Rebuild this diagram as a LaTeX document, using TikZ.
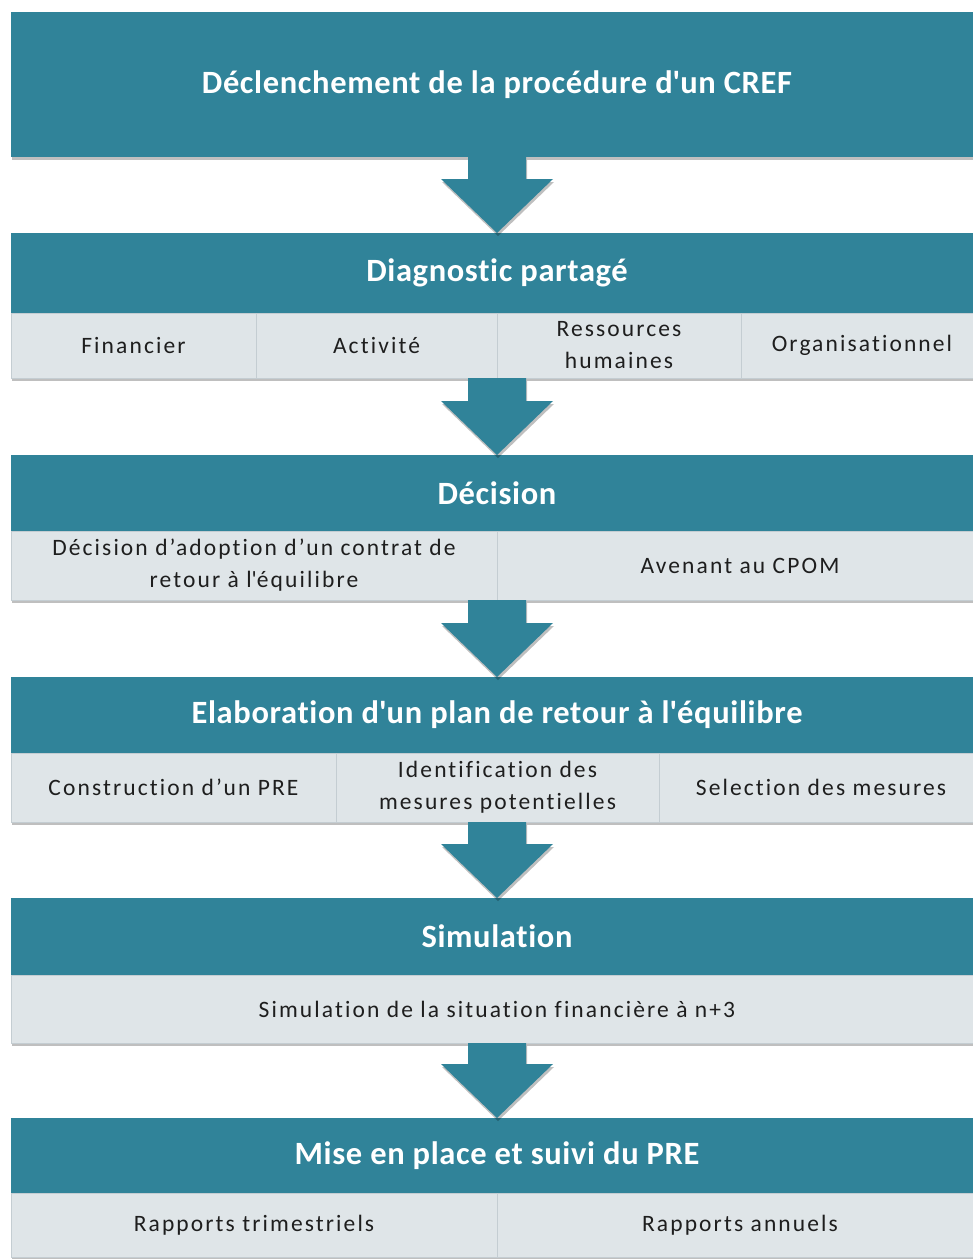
\documentclass[tikz,border=0pt]{standalone}
\usepackage{fontspec}
\setmainfont{Carlito}
\newfontfamily\hdrfont[LetterSpace=2,Ligatures={NoCommon}]{Carlito}
\newfontfamily\subfont[LetterSpace=9,Ligatures={NoCommon}]{Carlito}
\usetikzlibrary{calc,shadows}
\definecolor{tealc}{RGB}{48,131,153}
\definecolor{cellc}{RGB}{223,229,232}
\definecolor{cellline}{RGB}{196,205,210}
\definecolor{txtc}{RGB}{30,30,30}
\newcommand\blockarrow[2]{%
  \fill[tealc, drop shadow={shadow xshift=1pt, shadow yshift=-3pt, opacity=0.25, fill=black}]
    let \p1=(#1), \p2=(#2.north) in
    (\x1-29pt,\y1) -- (\x1+29pt,\y1) -- (\x1+29pt,\y2+54pt) -- (\x1+56pt,\y2+54pt)
    -- (\x2,\y2) -- (\x1-56pt,\y2+54pt) -- (\x1-29pt,\y2+54pt) -- cycle;}
\begin{document}
\begin{tikzpicture}[x=1pt,y=-1pt,
  hdr/.style={fill=tealc, text=white, font=\hdrfont\fontsize{32.5}{36}\selectfont\bfseries,
    minimum width=972pt, inner sep=0pt, anchor=north west, outer sep=0pt,
    drop shadow={shadow xshift=1pt, shadow yshift=-3pt, opacity=0.25, fill=black}},
  cell/.style={fill=cellc, draw=cellline, line width=1pt, text=txtc,
    font=\subfont\fontsize{23.5}{32}\selectfont, align=center,
    inner sep=0pt, anchor=north west, outer sep=0pt,
    drop shadow={shadow xshift=1pt, shadow yshift=-3pt, opacity=0.25, fill=black}}]
\useasboundingbox (0,0) rectangle (973,1259);
\clip (0,0) rectangle (973,1259);
% Block 1
\node[hdr, minimum height=145pt] (h1) at (11,12) {Déclenchement de la procédure d\textquotesingle un CREF};
% Block 2
\node[hdr, minimum height=80pt] (h2) at (11,233) {Diagnostic partagé};
\node[cell, minimum width=245pt, minimum height=65pt] (c21) at (h2.south west) {Financier};
\node[cell, minimum width=241pt, minimum height=65pt] (c22) at (c21.north east) {Activité};
\node[cell, minimum width=244pt, minimum height=65pt] (c23) at (c22.north east) {Ressources\\humaines};
\node[cell, minimum width=242pt, minimum height=65pt] (c24) at (c23.north east) {Organisationnel};
% Block 3
\node[hdr, minimum height=76pt] (h3) at (11,455) {Décision};
\node[cell, minimum width=486pt, minimum height=69pt] (c31) at (h3.south west) {Décision d’adoption d’un contrat de\\retour à l\textquotesingle équilibre};
\node[cell, minimum width=486pt, minimum height=69pt] (c32) at (c31.north east) {Avenant au CPOM};
% Block 4
\node[hdr, minimum height=76pt] (h4) at (11,677) {Elaboration d\textquotesingle un plan de retour à l\textquotesingle équilibre};
\node[cell, minimum width=325pt, minimum height=69pt] (c41) at (h4.south west) {Construction d’un PRE};
\node[cell, minimum width=323pt, minimum height=69pt] (c42) at (c41.north east) {Identification des\\mesures potentielles};
\node[cell, minimum width=324pt, minimum height=69pt] (c43) at (c42.north east) {Selection des mesures};
% Block 5
\node[hdr, minimum height=77pt] (h5) at (11,898) {Simulation};
\node[cell, minimum width=972pt, minimum height=68pt] (c51) at (h5.south west) {Simulation de la situation financière à n+3};
% Block 6
\node[hdr, minimum height=75pt] (h6) at (11,1118) {Mise en place et suivi du PRE};
\node[cell, minimum width=486pt, minimum height=64pt] (c61) at (h6.south west) {Rapports trimestriels};
\node[cell, minimum width=486pt, minimum height=64pt] (c62) at (c61.north east) {Rapports annuels};
% Arrows
\blockarrow{h1.south}{h2}
\blockarrow{$(h2.south |- c21.south)$}{h3}
\blockarrow{$(h3.south |- c31.south)$}{h4}
\blockarrow{$(h4.south |- c41.south)$}{h5}
\blockarrow{$(h5.south |- c51.south)$}{h6}
\end{tikzpicture}
\end{document}
